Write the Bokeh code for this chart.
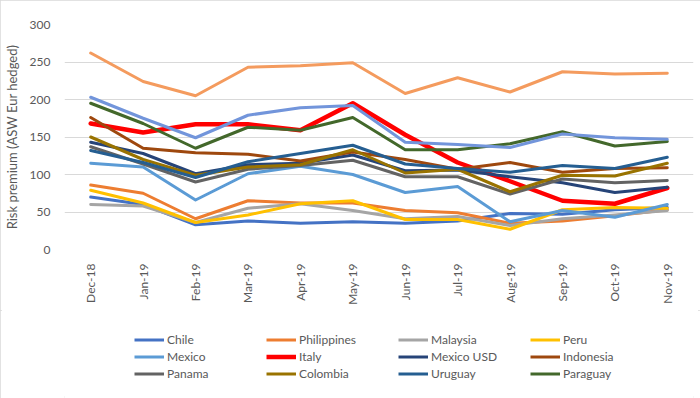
import math
from bokeh.plotting import figure
from bokeh.layouts import column
from bokeh.models import Range1d, FixedTicker, Legend, LegendItem
from bokeh.embed import file_html
from bokeh.resources import INLINE

months = ["Dec-18", "Jan-19", "Feb-19", "Mar-19", "Apr-19", "May-19",
          "Jun-19", "Jul-19", "Aug-19", "Sep-19", "Oct-19", "Nov-19"]

chile = [70, 60, 33, 38, 35, 37, 35, 38, 48, 47, 53, 56]
philippines = [86, 75, 41, 65, 62, 62, 52, 49, 35, 38, 45, 53]
malaysia = [60, 58, 36, 55, 61, 52, 41, 44, 32, 41, 46, 52]
peru = [79, 62, 36, 46, 61, 65, 40, 40, 27, 53, 56, 55]
mexico = [115, 110, 66, 101, 111, 100, 76, 84, 37, 52, 43, 60]
italy = [168, 156, 167, 167, 159, 195, 153, 116, 91, 65, 61, 82]
mexico_usd = [143, 128, 101, 113, 115, 126, 105, 106, 97, 89, 76, 83]
indonesia = [176, 135, 129, 127, 118, 130, 120, 107, 116, 103, 108, 109]
panama = [137, 114, 90, 107, 112, 119, 97, 97, 74, 94, 89, 92]
colombia = [150, 120, 99, 110, 113, 133, 102, 107, 77, 99, 98, 115]
uruguay = [132, 116, 96, 117, 128, 139, 114, 108, 103, 112, 108, 123]
paraguay = [195, 168, 135, 163, 159, 176, 133, 133, 141, 157, 138, 144]
unlabeled_orange = [262, 224, 205, 243, 245, 249, 208, 229, 210, 237, 234, 235]
unlabeled_blue = [203, 175, 149, 179, 189, 192, 143, 140, 136, 154, 149, 147]

y_ticks = [0, 50, 100, 150, 200, 250, 300]

series = [
    ("Chile", chile, "#4472C4", 3),
    ("Philippines", philippines, "#ED7D31", 3),
    ("Malaysia", malaysia, "#A5A5A5", 3),
    ("Peru", peru, "#FFC000", 3),
    ("Mexico", mexico, "#5B9BD5", 3),
    ("Italy", italy, "#FF0000", 4.5),
    ("Mexico USD", mexico_usd, "#264478", 3),
    ("Indonesia", indonesia, "#9E480E", 3),
    ("Panama", panama, "#636363", 3),
    ("Colombia", colombia, "#997300", 3),
    ("Uruguay", uruguay, "#255E91", 3),
    ("Paraguay", paraguay, "#43682B", 3),
    (None, unlabeled_orange, "#F49B5E", 3),
    (None, unlabeled_blue, "#7295DB", 3),
]

FONT = "Lato"
GRAY = "#595959"

# ---- main chart ----
p = figure(x_range=months, y_range=Range1d(0, 300),
           width=700, height=310,
           min_border_left=60, min_border_right=7,
           min_border_top=24, min_border_bottom=61,
           output_backend="svg", toolbar_location=None)

p.outline_line_color = None
p.background_fill_color = "white"
p.border_fill_color = "white"

p.xgrid.grid_line_color = None
p.ygrid.grid_line_color = "#D9D9D9"
p.ygrid.grid_line_width = 1

p.yaxis.ticker = FixedTicker(ticks=y_ticks)
p.yaxis.axis_line_color = None
p.yaxis.major_tick_line_color = None
p.yaxis.minor_tick_line_color = None
p.yaxis.major_label_standoff = 8
p.yaxis.major_label_text_font = FONT
p.yaxis.major_label_text_font_size = "12px"
p.yaxis.major_label_text_color = GRAY
p.yaxis.axis_label = "Risk premium (ASW Eur hedged)"
p.yaxis.axis_label_text_font = FONT
p.yaxis.axis_label_text_font_size = "13px"
p.yaxis.axis_label_text_font_style = "normal"
p.yaxis.axis_label_text_color = GRAY
p.yaxis.axis_label_standoff = 7

p.xaxis.axis_line_color = None
p.xaxis.major_tick_line_color = None
p.xaxis.minor_tick_line_color = None
p.xaxis.major_label_orientation = math.pi / 2
p.xaxis.major_label_standoff = 8
p.xaxis.major_label_text_font = FONT
p.xaxis.major_label_text_font_size = "12px"
p.xaxis.major_label_text_color = GRAY

for name, vals, color, lw in series:
    p.line(x=months, y=vals, line_color=color, line_width=lw,
           line_join="round", line_cap="round")

# ---- legend strip (legend proxies: same series, drawn outside the visible range) ----
leg_fig = figure(width=700, height=88, x_range=months, y_range=Range1d(1000, 1001),
                 min_border=0, output_backend="svg", toolbar_location=None)
leg_fig.axis.visible = False
leg_fig.grid.visible = False
leg_fig.outline_line_color = None
leg_fig.border_fill_color = "white"
leg_fig.background_fill_color = "white"

proxies = {}
for name, vals, color, lw in series:
    if name:
        proxies[name] = leg_fig.line(x=months, y=vals, line_color=color, line_width=lw)

rows = [["Chile", "Philippines", "Malaysia", "Peru"],
        ["Mexico", "Italy", "Mexico USD", "Indonesia"],
        ["Panama", "Colombia", "Uruguay", "Paraguay"]]
row_bottoms = [50, 33, 16]
for names, yb in zip(rows, row_bottoms):
    leg = Legend(items=[LegendItem(label=n, renderers=[proxies[n]]) for n in names],
                 orientation="horizontal", location=(70, yb),
                 glyph_width=30, glyph_height=17, label_height=17,
                 label_width=99, label_standoff=3, spacing=0,
                 padding=0, margin=0,
                 border_line_color=None, background_fill_alpha=0,
                 label_text_font=FONT, label_text_font_size="12px",
                 label_text_color=GRAY)
    leg_fig.add_layout(leg, "center")

layout = column(p, leg_fig, spacing=0,
                styles={"outline": "2px solid #D9D9D9", "outline-offset": "-2px"})
open("out.html", "w").write(file_html(layout, INLINE))
